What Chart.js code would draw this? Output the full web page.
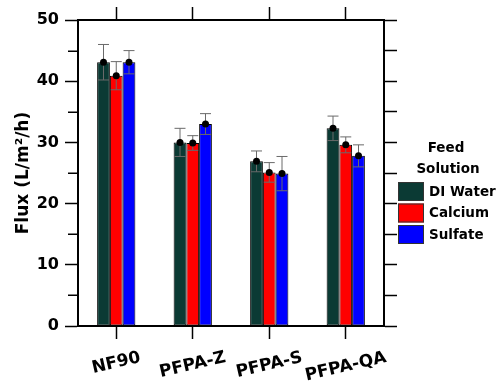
<!DOCTYPE html>
<html>
<head>
<meta charset="utf-8">
<script src="https://cdn.jsdelivr.net/npm/chart.js@4/dist/chart.umd.min.js"></script>
<style>
  html, body { margin: 0; padding: 0; background: #fff; }
  #wrap { width: 500px; height: 388px; }
</style>
</head>
<body>
<div id="wrap"><canvas id="flux"></canvas></div>
<script>
"use strict";

const categories = ["NF90", "PFPA-Z", "PFPA-S", "PFPA-QA"];
const seriesNames = ["DI Water", "Calcium", "Sulfate"];
const seriesColors = ["#0b3a34", "#ff0000", "#0000ff"];

const diWater = [43.1, 30.0, 26.9, 32.3];
const calcium = [40.9, 29.9, 25.1, 29.6];
const sulfate = [43.1, 33.0, 24.9, 27.8];

const diWaterErr = [2.9, 2.3, 1.7, 2.0];
const calciumErr = [2.3, 1.2, 1.6, 1.3];
const sulfateErr = [1.9, 1.7, 2.8, 1.8];

const yTicks = [0, 10, 20, 30, 40, 50];
const legendTitle = ["Feed", "Solution"];

const FONT = "'DejaVu Sans', 'Liberation Sans', Arial, sans-serif";

const errorBars = {
    id: "errorBars",
    afterDatasetsDraw(chart) {
        const ctx = chart.ctx;
        const y = chart.scales.y;
        chart.data.datasets.forEach((ds, di) => {
            const meta = chart.getDatasetMeta(di);
            meta.data.forEach((bar, i) => {
                const v = ds.data[i];
                const e = ds.errors[i];
                const top = y.getPixelForValue(v + e);
                const bot = y.getPixelForValue(v - e);
                ctx.save();
                ctx.strokeStyle = "#6a6a6a";
                ctx.lineWidth = 1;
                ctx.beginPath();
                ctx.moveTo(bar.x, top);
                ctx.lineTo(bar.x, bot);
                ctx.moveTo(bar.x - 5.5, top);
                ctx.lineTo(bar.x + 5.5, top);
                ctx.moveTo(bar.x - 5.5, bot);
                ctx.lineTo(bar.x + 5.5, bot);
                ctx.stroke();
                ctx.fillStyle = "#000";
                ctx.beginPath();
                ctx.arc(bar.x, y.getPixelForValue(v), 3.5, 0, Math.PI * 2);
                ctx.fill();
                ctx.restore();
            });
        });
    }
};

const sideText = {
    id: "sideText",
    afterDraw(chart) {
        const ctx = chart.ctx;
        const x = chart.scales.x;
        const y = chart.scales.y;
        ctx.save();
        // shorter minor ticks on the left axis
        ctx.strokeStyle = "#000";
        ctx.lineWidth = 1.5;
        y.ticks.forEach(t => {
            if (yTicks.includes(t.value)) return;
            const py = Math.round(y.getPixelForValue(t.value)) + 0.25;
            ctx.beginPath();
            ctx.moveTo(chart.chartArea.left - 10, py);
            ctx.lineTo(chart.chartArea.left, py);
            ctx.stroke();
        });

        // category labels, tilted
        ctx.font = "bold 17px " + FONT;
        ctx.fillStyle = "#000";
        ctx.textAlign = "center";
        ctx.textBaseline = "middle";
        const ang = 13 * Math.PI / 180;
        categories.forEach((c, i) => {
            const w = ctx.measureText(c).width;
            const px = x.getPixelForTick(i);
            ctx.save();
            ctx.translate(px, 357.5 + (w / 2 - 24.5) * Math.sin(ang) + 5.5);
            ctx.rotate(-ang);
            ctx.fillText(c, 0, 0);
            ctx.restore();
        });

        // legend
        ctx.font = "bold 13.5px " + FONT;
        ctx.fillText(legendTitle[0], 446, 148);
        ctx.fillText(legendTitle[1], 448, 169);
        ctx.textAlign = "left";
        chart.data.datasets.forEach((ds, i) => {
            const by = 182 + i * 21.5;
            ctx.fillStyle = ds.backgroundColor;
            ctx.fillRect(398, by, 26, 19);
            ctx.strokeStyle = "#333";
            ctx.lineWidth = 1;
            ctx.strokeRect(398.5, by + 0.5, 25, 18);
            ctx.fillStyle = "#000";
            ctx.fillText(ds.label, 429, by + 10);
        });
        ctx.restore();
    }
};

const axisLine = { display: true, color: "#000", width: 2 };
const tickGrid = {
    drawOnChartArea: false,
    drawTicks: true,
    tickLength: 13,
    tickColor: "#000",
    tickWidth: 1.5,
    offset: false
};

new Chart(document.getElementById("flux"), {
    type: "bar",
    data: {
        labels: categories,
        datasets: [
            { label: seriesNames[0], data: diWater, errors: diWaterErr, backgroundColor: seriesColors[0] },
            { label: seriesNames[1], data: calcium, errors: calciumErr, backgroundColor: seriesColors[1] },
            { label: seriesNames[2], data: sulfate, errors: sulfateErr, backgroundColor: seriesColors[2] }
        ].map(d => Object.assign(d, {
            borderColor: "#000",
            borderWidth: 1,
            borderSkipped: false,
            barPercentage: 1,
            categoryPercentage: 0.5
        }))
    },
    options: {
        responsive: true,
        maintainAspectRatio: false,
        animation: false,
        layout: { padding: 0 },
        plugins: {
            legend: { display: false },
            tooltip: { enabled: false }
        },
        scales: {
            x: {
                position: "bottom",
                offset: true,
                grid: tickGrid,
                border: axisLine,
                ticks: { display: false },
                afterFit: s => { s.height = 62; }
            },
            x2: {
                type: "category",
                labels: categories,
                position: "top",
                offset: true,
                grid: tickGrid,
                border: axisLine,
                ticks: { display: false },
                afterFit: s => { s.height = 20; }
            },
            y: {
                position: "left",
                min: 0,
                max: 50,
                grid: Object.assign({}, tickGrid, {
                    tickColor: c => yTicks.includes(c.tick.value) ? "#000" : "rgba(0,0,0,0)"
                }),
                border: axisLine,
                ticks: {
                    stepSize: 5,
                    padding: 6,
                    color: "#000",
                    font: { family: FONT, size: 16, weight: "bold" },
                    callback: v => yTicks.includes(v) ? String(v) : ""
                },
                title: {
                    display: true,
                    text: "Flux (L/m²/h)",
                    color: "#000",
                    font: { family: FONT, size: 17, weight: "bold" },
                    padding: { top: 13, bottom: 0 }
                },
                afterFit: s => { s.width = 78; }
            },
            y2: {
                position: "right",
                min: 0,
                max: 50,
                grid: tickGrid,
                border: axisLine,
                ticks: { stepSize: 5, display: false },
                afterFit: s => { s.width = 116; }
            }
        }
    },
    plugins: [errorBars, sideText]
});
</script>
</body>
</html>
